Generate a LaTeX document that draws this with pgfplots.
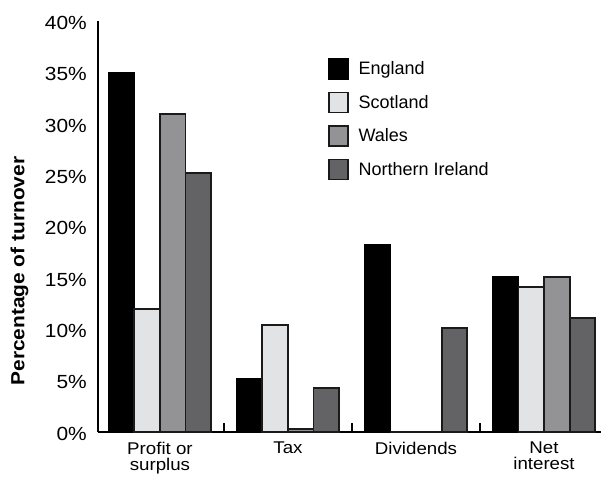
\documentclass[border=0pt]{standalone}
\usepackage{pgfplots}
\pgfplotsset{compat=1.18}
\usepackage{fontspec}
\setmainfont{Liberation Sans}
\newfontfamily\widefont{Liberation Sans}[FakeStretch=1.1]
\definecolor{cEng}{HTML}{000000}
\definecolor{cSco}{HTML}{E2E3E5}
\definecolor{cWal}{HTML}{939396}
\definecolor{cNI}{HTML}{636365}
\definecolor{cEdge}{HTML}{1A1A1A}
\pgfplotsset{mylegend/.style={legend image code/.code={\draw[##1, line width=1.6pt] (0pt,-10pt) rectangle (19pt,10pt);}}}
\begin{document}
\begin{tikzpicture}
\begin{axis}[
  scale only axis, width=503pt, height=410.5pt,
  xmin=-0.484, xmax=3.445, ymin=0, ymax=40,
  axis x line*=bottom, axis y line*=left,
  axis line style={line width=2pt, -},
  ybar=0pt, bar width=25.6pt,
  xtick={0,1,2,3},
  xticklabels={Profit or\\surplus, Tax, Dividends, Net\\interest},
  xticklabel style={align=center, font=\widefont\fontsize{17}{16}\selectfont, inner sep=0pt, anchor=north, yshift=-10pt},
  major tick length=0pt,
  extra x ticks={0.5,1.5,2.5}, extra x tick labels={},
  extra x tick style={major tick length=9pt, tick align=inside, major tick style={line width=1.5pt, black}},
  ytick={0,5,...,40},
  yticklabels={0\%,5\%,10\%,15\%,20\%,25\%,30\%,35\%,40\%},
  yticklabel style={font=\widefont\fontsize{19}{19}\selectfont, inner sep=0pt, anchor=east, xshift=-11pt, yshift=-1.5pt},
  ylabel={Percentage of turnover},
  ylabel style={font=\widefont\bfseries\fontsize{19}{19}\selectfont, at={(axis description cs:-0.156,0.392)}, anchor=center},
  legend style={at={(0.4573,0.911)}, anchor=north west, draw=none, fill=none, inner sep=0pt, outer sep=0pt,
    font=\fontsize{18}{18}\selectfont, row sep=11.9pt, column sep=10pt, nodes={inner sep=0pt}},
  legend cell align=left,
]
\addplot[fill=cEng, draw=black, line width=1.8pt, mylegend] coordinates {(0,35) (1,5.2) (2,18.2) (3,15.1)};
\addlegendentry{England}
\addplot[fill=cSco, draw=cEdge, line width=1.8pt, mylegend] coordinates {(0,12) (1,10.4) (2,0) (3,14.1)};
\addlegendentry{Scotland}
\addplot[fill=cWal, draw=cEdge, line width=1.8pt, mylegend] coordinates {(0,31) (1,0.3) (2,0) (3,15.1)};
\addlegendentry{Wales}
\addplot[fill=cNI, draw=cEdge, line width=1.8pt, mylegend] coordinates {(0,25.2) (1,4.3) (2,10.1) (3,11.1)};
\addlegendentry{Northern Ireland}
\end{axis}
\pgfresetboundingbox
\path (current axis.south west) ++(-98pt,-52pt) rectangle ++(601pt,484pt);
\end{tikzpicture}
\end{document}
